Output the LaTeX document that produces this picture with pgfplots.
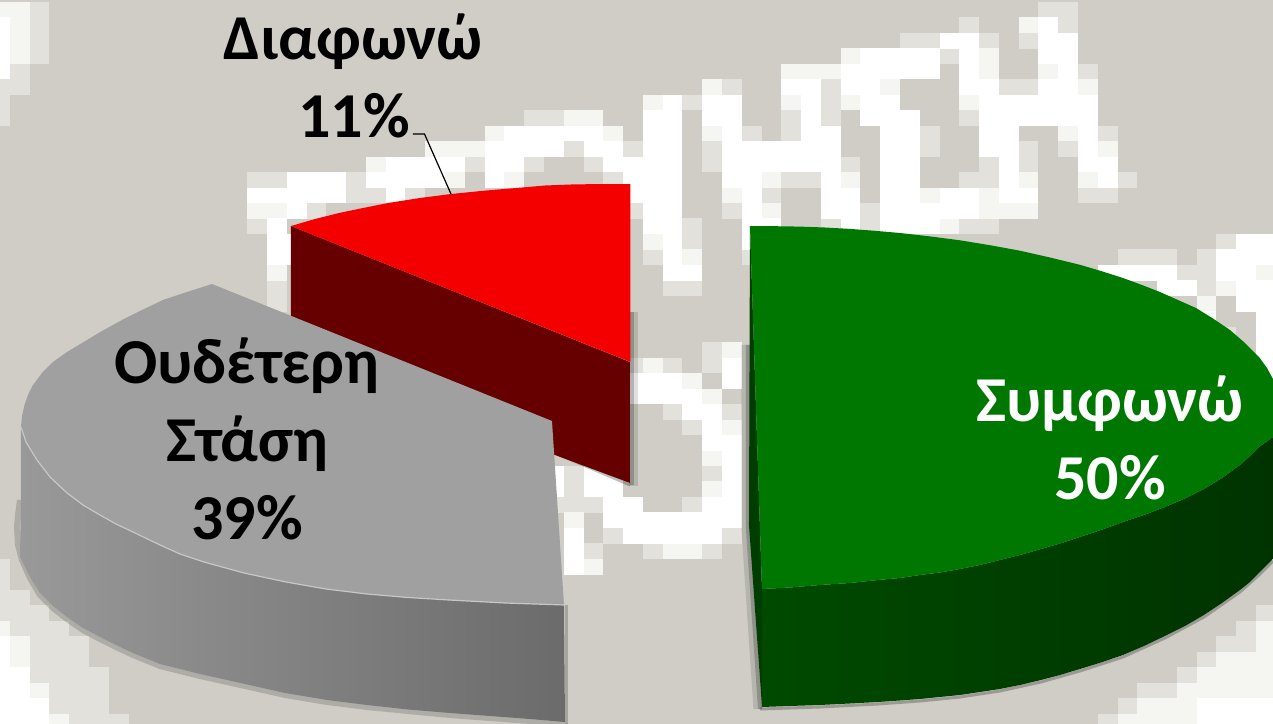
\documentclass[border=0pt]{standalone}
\usepackage{pgfplots}
\pgfplotsset{compat=1.18}
\usepackage{fontspec}
\setmainfont{Carlito}
\definecolor{bgc}{HTML}{CFCDC6}
\definecolor{lt}{HTML}{E2E1DC}
\definecolor{nw}{HTML}{F5F5F1}
\definecolor{redtop}{HTML}{F50000}
\definecolor{redside}{HTML}{660000}
\definecolor{greentop}{HTML}{007700}
\definecolor{greydark}{HTML}{A0A0A0}
\begin{document}
\begin{tikzpicture}
% background mosaic, in cells of the pixelated picture
\begin{axis}[at={(0,0)},anchor=south west,scale only axis,width=1273pt,height=724pt,hide axis,
  xmin=-32.5,xmax=31.86,ymin=-0.13,ymax=46.67,y dir=reverse,clip=true,unbounded coords=jump]
\addplot[fill=bgc,draw=none] coordinates {(-33,-1)(33,-1)(33,48)(-33,48)} -- cycle;
\addplot[lt,line width=15.7pt] coordinates {
(20,0.5)(22,0.5)(nan,0)(-31,0.5)(-30,0.5)(nan,0)
(16,1.5)(17,1.5)(nan,0)(21,1.5)(22,1.5)(nan,0)(-31,1.5)(-30,1.5)(nan,0)
(13,2.5)(15,2.5)(nan,0)(17,2.5)(18,2.5)(nan,0)(19,2.5)(20,2.5)(nan,0)(-31,2.5)(-30,2.5)(nan,0)
(15,3.5)(16,3.5)(nan,0)(-31,3.5)(-30,3.5)(nan,0)
(22,4.5)(23,4.5)(nan,0)(-32,4.5)(-31,4.5)(nan,0)
(4,5.5)(5,5.5)(nan,0)(9,5.5)(10,5.5)(nan,0)(18,5.5)(20,5.5)(nan,0)(-33,5.5)(-31,5.5)(nan,0)
(2,6.5)(3,6.5)(nan,0)(9,6.5)(10,6.5)(nan,0)(-33,6.5)(-32,6.5)(nan,0)
(7,7.5)(8,7.5)(nan,0)(9,7.5)(10,7.5)(nan,0)(16,7.5)(17,7.5)(nan,0)(-6,7.5)(-4,7.5)(nan,0)(-33,7.5)(-32,7.5)(nan,0)
(5,8.5)(6,8.5)(nan,0)(7,8.5)(8,8.5)(nan,0)(14,8.5)(15,8.5)(nan,0)(23,8.5)(24,8.5)(nan,0)
(-1,9.5)(0,9.5)(nan,0)(3,9.5)(4,9.5)(nan,0)(14,9.5)(15,9.5)(nan,0)(19,9.5)(20,9.5)(nan,0)(21,9.5)(22,9.5)(nan,0)(-4,9.5)(-3,9.5)(nan,0)
(3,10.5)(4,10.5)(nan,0)(10,10.5)(11,10.5)(nan,0)(17,10.5)(18,10.5)(nan,0)(19,10.5)(20,10.5)(nan,0)(-9,10.5)(-8,10.5)(nan,0)(-6,10.5)(-5,10.5)(nan,0)(-3,10.5)(-2,10.5)(nan,0)
(7,11.5)(9,11.5)(nan,0)(16,11.5)(18,11.5)(nan,0)(24,11.5)(25,11.5)(nan,0)(-20,11.5)(-18,11.5)(nan,0)(-15,11.5)(-14,11.5)(nan,0)(-2,11.5)(-1,11.5)(nan,0)
(6,12.5)(7,12.5)(nan,0)(22,12.5)(24,12.5)(nan,0)(-15,12.5)(-13,12.5)(nan,0)(-12,12.5)(-11,12.5)(nan,0)
(-1,13.5)(0,13.5)(nan,0)(4,13.5)(5,13.5)(nan,0)(11,13.5)(12,13.5)(nan,0)(-17,13.5)(-16,13.5)(nan,0)
(2,14.5)(3,14.5)(nan,0)(9,14.5)(10,14.5)(nan,0)(11,14.5)(12,14.5)(nan,0)(16,14.5)(18,14.5)(nan,0)(-20,14.5)(-19,14.5)(nan,0)
(2,15.5)(3,15.5)(nan,0)(29,15.5)(30,15.5)(nan,0)
(0,16.5)(1,16.5)(nan,0)(5,16.5)(6,16.5)(nan,0)(24,16.5)(27,16.5)(nan,0)(28,16.5)(29,16.5)(nan,0)
(27,17.5)(29,17.5)(nan,0)
(1,18.5)(3,18.5)(nan,0)(28,18.5)(29,18.5)(nan,0)(-19,18.5)(-18,18.5)(nan,0)
(-19,19.5)(-18,19.5)(nan,0)
(29,21.5)(30,21.5)(nan,0)
(3,22.5)(4,22.5)(nan,0)
(-1,23.5)(0,23.5)(nan,0)(1,23.5)(2,23.5)(nan,0)(3,23.5)(4,23.5)(nan,0)
(1,26.5)(2,26.5)(nan,0)(4,26.5)(5,26.5)(nan,0)
(2,27.5)(3,27.5)(nan,0)
(3,30.5)(4,30.5)(nan,0)(-4,30.5)(-3,30.5)(nan,0)
(-4,31.5)(-3,31.5)(nan,0)
(-5,32.5)(-2,32.5)(nan,0)(2,32.5)(3,32.5)(nan,0)
(-2,34.5)(-1,34.5)(nan,0)(4,34.5)(5,34.5)(nan,0)
(-3,35.5)(-2,35.5)(nan,0)(0,35.5)(1,35.5)(nan,0)(3,35.5)(4,35.5)(nan,0)
(-33,36.5)(-32,36.5)(nan,0)(-33,37.5)(-32,37.5)(nan,0)(-33,38.5)(-31,38.5)(nan,0)
(-33,39.5)(-30,39.5)(nan,0)(31,39.5)(32,39.5)(nan,0)
(-32,40.5)(-29,40.5)(nan,0)(30,40.5)(31,40.5)(nan,0)
(-31,41.5)(-28,41.5)(nan,0)(29,41.5)(31,41.5)(nan,0)
(-31,42.5)(-28,42.5)(nan,0)(28,42.5)(29,42.5)(nan,0)
(-31,43.5)(-27,43.5)(nan,0)(27,43.5)(28,43.5)(nan,0)
(-30,44.5)(-27,44.5)(nan,0)(25,44.5)(27,44.5)(nan,0)
(-30,45.5)(-27,45.5)(nan,0)(24,45.5)(25,45.5)(nan,0)
(-29,46.5)(-26,46.5)(nan,0)(23,46.5)(24,46.5)
};
\addplot[nw,line width=15.7pt] coordinates {
(-33,0.5)(-31,0.5)(nan,0)
(19,1.5)(20,1.5)(nan,0)(-32,1.5)(-31,1.5)(nan,0)
(-32,2.5)(-31,2.5)(nan,0)
(10,3.5)(11,3.5)(nan,0)(17,3.5)(18,3.5)(nan,0)(-32,3.5)(-31,3.5)(nan,0)
(7,4.5)(10,4.5)(nan,0)(17,4.5)(18,4.5)(nan,0)(20,4.5)(21,4.5)(nan,0)
(3,5.5)(4,5.5)(nan,0)(12,5.5)(13,5.5)(nan,0)(22,5.5)(23,5.5)(nan,0)
(0,6.5)(1,6.5)(nan,0)(7,6.5)(8,6.5)(nan,0)(10,6.5)(11,6.5)(nan,0)(16,6.5)(17,6.5)(nan,0)
(-4,7.5)(-2,7.5)(nan,0)
(3,8.5)(4,8.5)(nan,0)(21,8.5)(22,8.5)(nan,0)(-8,8.5)(-7,8.5)(nan,0)(-2,8.5)(-1,8.5)(nan,0)
(23,9.5)(24,9.5)(nan,0)(-11,9.5)(-8,9.5)(nan,0)
(-14,10.5)(-13,10.5)(nan,0)
(6,11.5)(7,11.5)(nan,0)(10,11.5)(11,11.5)(nan,0)(19,11.5)(20,11.5)(nan,0)(22,11.5)(23,11.5)(nan,0)(-10,11.5)(-9,11.5)(nan,0)(-7,11.5)(-6,11.5)(nan,0)
(4,12.5)(5,12.5)(nan,0)(14,12.5)(15,12.5)(nan,0)(17,12.5)(18,12.5)(nan,0)
(6,13.5)(7,13.5)(nan,0)(17,13.5)(20,13.5)(nan,0)(-20,13.5)(-18,13.5)(nan,0)
(15,14.5)(16,14.5)(nan,0)
(0,15.5)(1,15.5)(nan,0)
(2,16.5)(3,16.5)(nan,0)
(31,17.5)(32,17.5)(nan,0)(-19,17.5)(-18,17.5)(nan,0)
(29,18.5)(30,18.5)(nan,0)
(28,19.5)(29,19.5)(nan,0)
(4,22.5)(5,22.5)(nan,0)
(0,23.5)(1,23.5)(nan,0)
(2,24.5)(3,24.5)(nan,0)
(3,25.5)(4,25.5)(nan,0)
(4,27.5)(5,27.5)(nan,0)
(3,29.5)(4,29.5)(nan,0)
(3,31.5)(4,31.5)(nan,0)
(-4,33.5)(-3,33.5)(nan,0)
(1,35.5)(3,35.5)(nan,0)
(-3,36.5)(-2,36.5)(nan,0)
(-33,40.5)(-32,40.5)(nan,0)(31,40.5)(32,40.5)(nan,0)
(-32,41.5)(-31,41.5)(nan,0)(31,41.5)(32,41.5)(nan,0)
(-32,42.5)(-31,42.5)(nan,0)(29,42.5)(32,42.5)(nan,0)
(28,43.5)(32,43.5)(nan,0)
(-31,44.5)(-30,44.5)(nan,0)(27,44.5)(32,44.5)(nan,0)
(25,45.5)(28,45.5)(nan,0)
(-30,46.5)(-29,46.5)(nan,0)(24,46.5)(28,46.5)
};
\addplot[white,line width=15.7pt] coordinates {
(20,1.5)(21,1.5)(nan,0)(-33,1.5)(-32,1.5)(nan,0)
(15,2.5)(17,2.5)(nan,0)(20,2.5)(22,2.5)(nan,0)(-33,2.5)(-32,2.5)(nan,0)
(11,3.5)(15,3.5)(nan,0)(16,3.5)(17,3.5)(nan,0)(20,3.5)(22,3.5)(nan,0)(-33,3.5)(-32,3.5)(nan,0)
(10,4.5)(15,4.5)(nan,0)(16,4.5)(17,4.5)(nan,0)(21,4.5)(22,4.5)(nan,0)(-33,4.5)(-32,4.5)(nan,0)
(7,5.5)(9,5.5)(nan,0)(10,5.5)(12,5.5)(nan,0)(16,5.5)(18,5.5)(nan,0)(20,5.5)(22,5.5)(nan,0)
(1,6.5)(2,6.5)(nan,0)(3,6.5)(5,6.5)(nan,0)(8,6.5)(9,6.5)(nan,0)(11,6.5)(13,6.5)(nan,0)(17,6.5)(23,6.5)(nan,0)
(0,7.5)(2,7.5)(nan,0)(3,7.5)(5,7.5)(nan,0)(8,7.5)(9,7.5)(nan,0)(11,7.5)(14,7.5)(nan,0)(17,7.5)(23,7.5)(nan,0)
(0,8.5)(2,8.5)(nan,0)(4,8.5)(5,8.5)(nan,0)(8,8.5)(10,8.5)(nan,0)(12,8.5)(14,8.5)(nan,0)(17,8.5)(19,8.5)(nan,0)(22,8.5)(23,8.5)(nan,0)(-7,8.5)(-2,8.5)(nan,0)
(0,9.5)(2,9.5)(nan,0)(4,9.5)(10,9.5)(nan,0)(12,9.5)(14,9.5)(nan,0)(17,9.5)(19,9.5)(nan,0)(22,9.5)(23,9.5)(nan,0)(-8,9.5)(-4,9.5)(nan,0)(-3,9.5)(-1,9.5)(nan,0)
(-1,10.5)(2,10.5)(nan,0)(4,10.5)(10,10.5)(nan,0)(12,10.5)(14,10.5)(nan,0)(18,10.5)(19,10.5)(nan,0)(22,10.5)(24,10.5)(nan,0)(-13,10.5)(-9,10.5)(nan,0)(-8,10.5)(-6,10.5)(nan,0)(-2,10.5)(0,10.5)(nan,0)
(-1,11.5)(2,11.5)(nan,0)(4,11.5)(6,11.5)(nan,0)(9,11.5)(10,11.5)(nan,0)(12,11.5)(14,11.5)(nan,0)(18,11.5)(19,11.5)(nan,0)(23,11.5)(24,11.5)(nan,0)(-18,11.5)(-15,11.5)(nan,0)(-14,11.5)(-10,11.5)(nan,0)(-8,11.5)(-7,11.5)(nan,0)
(-1,12.5)(2,12.5)(nan,0)(5,12.5)(6,12.5)(nan,0)(9,12.5)(11,12.5)(nan,0)(12,12.5)(14,12.5)(nan,0)(15,12.5)(17,12.5)(nan,0)(18,12.5)(20,12.5)(nan,0)(-20,12.5)(-15,12.5)(nan,0)(-13,12.5)(-12,12.5)(nan,0)
(0,13.5)(2,13.5)(nan,0)(5,13.5)(6,13.5)(nan,0)(9,13.5)(11,13.5)(nan,0)(12,13.5)(17,13.5)(nan,0)(-18,13.5)(-17,13.5)(nan,0)
(0,14.5)(2,14.5)(nan,0)(5,14.5)(7,14.5)(nan,0)(10,14.5)(11,14.5)(nan,0)(12,14.5)(15,14.5)(nan,0)(-19,14.5)(-18,14.5)(nan,0)
(1,15.5)(2,15.5)(nan,0)(5,15.5)(6,15.5)(nan,0)(30,15.5)(32,15.5)(nan,0)(-19,15.5)(-17,15.5)(nan,0)
(1,16.5)(2,16.5)(nan,0)(29,16.5)(32,16.5)(nan,0)(-19,16.5)(-17,16.5)(nan,0)
(1,17.5)(3,17.5)(nan,0)(23,17.5)(27,17.5)(nan,0)(29,17.5)(31,17.5)(nan,0)
(26,18.5)(28,18.5)(nan,0)(30,18.5)(32,18.5)(nan,0)
(30,19.5)(32,19.5)(nan,0)
(28,20.5)(29,20.5)(nan,0)(31,20.5)(32,20.5)(nan,0)
(31,21.5)(32,21.5)(nan,0)(31,22.5)(32,22.5)(nan,0)
(4,23.5)(5,23.5)(nan,0)(31,23.5)(32,23.5)(nan,0)
(-1,24.5)(2,24.5)(nan,0)(4,24.5)(5,24.5)(nan,0)(31,24.5)(32,24.5)(nan,0)
(-1,25.5)(3,25.5)(nan,0)
(2,26.5)(4,26.5)(nan,0)
(3,27.5)(4,27.5)(nan,0)
(3,28.5)(5,28.5)(nan,0)
(4,29.5)(5,29.5)(nan,0)
(4,30.5)(5,30.5)(nan,0)(-5,30.5)(-4,30.5)(nan,0)(-3,30.5)(-1,30.5)(nan,0)
(4,31.5)(5,31.5)(nan,0)(-5,31.5)(-4,31.5)(nan,0)(-3,31.5)(-1,31.5)(nan,0)
(3,32.5)(5,32.5)(nan,0)(-2,32.5)(0,32.5)(nan,0)
(-2,33.5)(5,33.5)(nan,0)
(-4,34.5)(-3,34.5)(nan,0)(-1,34.5)(4,34.5)(nan,0)
(-4,35.5)(-3,35.5)(nan,0)
(-4,36.5)(-3,36.5)(nan,0)
(-33,41.5)(-32,41.5)(nan,0)(-33,42.5)(-32,42.5)(nan,0)
(-33,43.5)(-31,43.5)(nan,0)(-33,44.5)(-31,44.5)(nan,0)
(-33,45.5)(-30,45.5)(nan,0)(28,45.5)(32,45.5)(nan,0)
(-33,46.5)(-30,46.5)(nan,0)(28,46.5)(32,46.5)
};
\end{axis}
% the pie, in picture pixels
\begin{axis}[at={(0,0)},anchor=south west,scale only axis,width=1273pt,height=724pt,hide axis,
  xmin=0,xmax=1273,ymin=0,ymax=724,y dir=reverse,clip=true]
% soft shadows
\addplot[black,opacity=.12,line width=9pt] coordinates {(634,312)(634,486)};
\addplot[black,opacity=.2,line width=4pt] coordinates {(632,312)(632,485)};
\addplot[black,opacity=.12,line width=9pt] coordinates {(746,345)(746,530)(758,709)};
\addplot[black,opacity=.2,line width=4pt] coordinates {(748,345)(748,530)(760,709)};
\addplot[black,opacity=.25,line width=3pt] coordinates {(760,709)(820,707)(878,704)(920,701)(960,697)(1000,691)(1041,682)(1080,671)(1123,657)(1165,638)(1204,617)(1240,592)(1259,575)(1273,561)};
\addplot[black,opacity=.25,line width=3pt] coordinates {(553,452)(630,485)};
\addplot[black,opacity=.16,line width=6pt] coordinates {(20,500)(18,515)(17,527)(18,545)(22,560)(30,578)(40,595)(53,608)(67,619)(83,630)(100,639)(116,647)(133,655)(160,666)(200,676)(245,686)(285,695)(327,702)(367,707)(408,711)(450,715)(490,718)(530,721)(565,724)};
\addplot[black,opacity=.2,line width=3pt] coordinates {(567,605)(567,724)};
% red slice
\addplot[fill=redside,draw=none] coordinates {(291,226)(630,362)(630,483)(555,455)(291,357)} -- cycle;
\addplot[fill=redtop,draw=none] coordinates {(630.5,184)(600,184)(571,184.5)(545,185.5)(522,187.5)(486,190.5)(451,194)(420,198)(388,203)(363,208)(339,213)(315,219)(291,226)(630.5,362)} -- cycle;
% grey slice
\addplot[left color=black!40,middle color=black!44,right color=black!58,draw=none] coordinates {(21,427)(21,503)(20,557)(30,577)(40,593)(53,606)(67,617)(83,628)(100,637)(116,645)(133,653)(160,664)(200,674)(245,684)(285,693)(327,700)(367,705)(408,709.5)(450,713)(490,716)(530,719)(565,722)(564,605)(505,603)(449,600)(408,597.5)(367,594)(326,589)(286,582)(244,573)(204,562)(180,554)(160,545)(133,532)(116,524)(100,515)(83,505)(67,493)(50,477)(37,460)(26,442)} -- cycle;
\addplot[fill=greydark,draw=none] coordinates {(212,284)(187,292)(163,300)(142,310)(122,320)(102,331)(82,343)(67,352)(53,362)(42,373)(33,385)(28,395)(24.5,405)(22,416)(21,427)(26,442)(37,460)(50,477)(67,493)(83,505)(100,515)(116,524)(133,532)(160,545)(180,554)(204,562)(244,573)(286,582)(326,589)(367,594)(408,597.5)(449,600)(505,603)(564,605)(552,421)} -- cycle;
\addplot[color=black!22,line width=1.2pt] coordinates {(21,427)(26,442)(37,460)(50,477)(67,493)(83,505)(100,515)(116,524)(133,532)(160,545)(180,554)(204,562)(244,573)(286,582)(326,589)(367,594)(408,597.5)(449,600)(505,603)(564,605)};
% green slice
\addplot[left color=green!29!black,middle color=green!22!black,right color=green!20!black,draw=none] coordinates {(1273,437)(1266,442)(1259,447)(1250,456)(1240,465)(1222,478)(1204,489)(1185,498.5)(1165,507)(1144,515)(1123,522)(1101,530)(1080,537)(1060,543.5)(1041,549)(1020,555)(1000,560)(980,565)(960,569)(940,572.5)(920,575)(900,578)(878,580)(850,583)(820,585)(790,587.5)(762,589)(762,707)(790,706)(820,705)(850,703.5)(878,702)(900,700.5)(920,699)(940,697)(960,695)(980,692)(1000,689)(1020,685)(1041,680)(1060,675)(1080,669)(1101,662.5)(1123,655)(1144,646)(1165,636)(1185,626)(1204,615)(1222,603)(1240,590)(1250,582)(1259,573)(1266,566)(1273,559)} -- cycle;
\addplot[fill=green!24!black,draw=none] coordinates {(750,226)(749,525)(762,707)(762,589)} -- cycle;
\addplot[fill=greentop,draw=none] coordinates {(750,226)(775,226.2)(800,226.6)(825,227.5)(850,228.9)(875,230.8)(900,233)(930,236.4)(960,240.3)(990,245.2)(1020,250.7)(1050,257.5)(1080,264.8)(1101,271)(1123,278)(1142,285)(1160,292)(1178,300)(1196,308)(1213,318.5)(1230,330)(1245,343)(1259,357)(1267,368)(1273,379)(1273,437)(1266,442)(1259,447)(1250,456)(1240,465)(1222,478)(1204,489)(1185,498.5)(1165,507)(1144,515)(1123,522)(1101,530)(1080,537)(1060,543.5)(1041,549)(1020,555)(1000,560)(980,565)(960,569)(940,572.5)(920,575)(900,578)(878,580)(850,583)(820,585)(790,587.5)(762,589)} -- cycle;
% leader
\addplot[black,line width=1.2pt] coordinates {(413,134)(424.5,134)(451,194)};
% labels
\node[anchor=base,font=\fontsize{64}{78}\selectfont\bfseries,text=black] at (axis cs:353,59) {Διαφωνώ};
\node[anchor=base,font=\fontsize{64}{78}\selectfont\bfseries,text=black] at (axis cs:354,137) {11\%};
\node[anchor=base,font=\fontsize{64}{78}\selectfont\bfseries,text=black] at (axis cs:247,384) {Ουδέτερη};
\node[anchor=base,font=\fontsize{64}{78}\selectfont\bfseries,text=black] at (axis cs:247,462) {Στάση};
\node[anchor=base,font=\fontsize{64}{78}\selectfont\bfseries,text=black] at (axis cs:247,540) {39\%};
\node[anchor=base,font=\fontsize{64}{78}\selectfont\bfseries,text=white] at (axis cs:1110,422) {Συμφωνώ};
\node[anchor=base,font=\fontsize{64}{78}\selectfont\bfseries,text=white] at (axis cs:1110,500) {50\%};
\end{axis}
\end{tikzpicture}
\end{document}
